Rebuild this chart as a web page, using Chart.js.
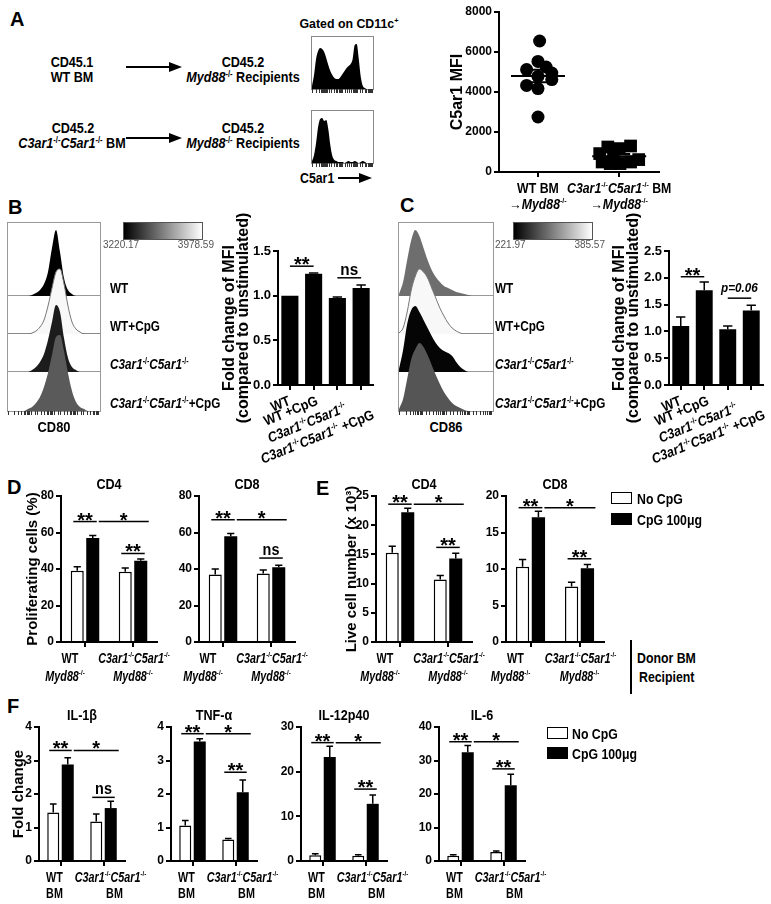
<!DOCTYPE html>
<html>
<head>
<meta charset="utf-8">
<title>C5ar1 / CpG figure</title>
<script src="https://cdn.jsdelivr.net/npm/chart.js@4.4.0/dist/chart.umd.min.js"></script>
<style>
  html, body { margin: 0; padding: 0; background: #fff; }
  #fig { position: relative; width: 771px; height: 904px; overflow: hidden; background: #fff;
         font-family: Arial, "Liberation Sans", sans-serif; font-weight: bold; color: #000; }
  #fig canvas, #fig .t, #fig .bx, #fig svg { position: absolute; }
  .t { white-space: nowrap; line-height: 1; }
  .t sup { font-size: 60%; vertical-align: 0; position: relative; top: -0.55em; }
</style>
</head>
<body>
<div id="fig"></div>
<script>
const FONT = 'Arial, "Liberation Sans", sans-serif';

// ---------- A: chimera C5ar1 MFI ----------
const aWtX = [1.02, 1.0, 1.1, 0.86, 1.17, 1.0, 1.17, 0.86, 1.0, 1.0];
const aWtY = [6550, 5530, 5250, 5120, 4950, 4780, 4620, 4330, 4170, 2750];
const aKoX = [1.76, 1.86, 2.0, 2.14, 1.79, 1.89, 2.01, 2.14, 2.24, 1.93];
const aKoY = [920, 1250, 1170, 1300, 500, 420, 420, 500, 620, 750];
const aCats = [['WT BM', '→_Myd88_^-/-^'], ['_C3ar1_^-/-^_C5ar1_^-/-^ BM', '→_Myd88_^-/-^']];
// C5ar1 histograms (gated on CD11c+)
const aHistWT = [3, 14, 30, 38, 41, 40, 37, 31, 24, 18, 14, 11, 10, 10, 12, 15, 18, 21, 23, 25, 30, 44, 45, 30, 12, 3, 1, 0, 0, 0, 0];
const aHistKO = [2, 8, 20, 36, 44, 45, 42, 43, 34, 18, 7, 3, 2, 1, 1, 1, 0, 1, 2, 1, 1, 2, 1, 0, 1, 2, 1, 0, 0, 0, 0];

// ---------- B / C: CD80, CD86 ----------
const histRowLabels = ['WT', 'WT+CpG', '_C3ar1_^-/-^_C5ar1_^-/-^', '_C3ar1_^-/-^_C5ar1_^-/-^+CpG'];
const bHistWT = [0, 0, 0, 0, 0, 0, 1, 3, 6, 12, 24, 48, 66, 44, 18, 6, 2, 0, 0, 0, 0, 0, 0, 0];
const bHistWTCpG = [0, 0, 0, 0, 0, 0, 1, 3, 7, 14, 28, 46, 62, 65, 50, 28, 12, 5, 2, 0, 0, 0, 0, 0];
const bHistKO = [0, 0, 0, 0, 0, 0, 2, 5, 10, 18, 32, 50, 67, 60, 34, 14, 5, 2, 0, 0, 0, 0, 0, 0];
const bHistKOCpG = [0, 0, 0, 0, 0, 2, 4, 8, 14, 24, 38, 56, 74, 76, 60, 38, 20, 9, 4, 2, 0, 0, 0, 0];
const cHistWT = [2, 14, 36, 56, 66, 60, 48, 36, 26, 19, 14, 10, 8, 6, 4, 3, 2, 1, 0, 0, 0, 0, 0, 0];
const cHistWTCpG = [1, 6, 22, 44, 58, 65, 62, 56, 46, 36, 26, 18, 11, 6, 3, 1, 0, 0, 0, 0, 0, 0, 0, 0];
const cHistKO = [3, 22, 48, 62, 66, 60, 52, 44, 36, 29, 24, 21, 19, 16, 10, 5, 2, 0, 0, 0, 0, 0, 0, 0];
const cHistKOCpG = [2, 12, 32, 52, 62, 68, 64, 56, 46, 36, 27, 19, 13, 8, 5, 3, 1, 0, 0, 0, 0, 0, 0, 0];

const mfiLabels = ['WT', 'WT +CpG', '_C3ar1_^-/-^_C5ar1_^-/-^', '_C3ar1_^-/-^_C5ar1_^-/-^ +CpG'];
const bFold = [1.0, 1.245, 0.975, 1.085];
const bFoldErr = [0, 0.01, 0.01, 0.035];
const cFold = [1.10, 1.77, 1.04, 1.39];
const cFoldErr = [0.17, 0.15, 0.06, 0.10];

// ---------- D / E / F ----------
const deGroups = [['WT', '_Myd88_^-/-^'], ['_C3ar1_^-/-^_C5ar1_^-/-^', '_Myd88_^-/-^']];
const fGroups = [['WT', 'BM'], ['_C3ar1_^-/-^_C5ar1_^-/-^', 'BM']];

const dCd4No = [39, 38.5], dCd4NoErr = [2.2, 2.0], dCd4CpG = [57, 44.5], dCd4CpGErr = [1.4, 1.0];
const dCd8No = [37, 37.5], dCd8NoErr = [3.0, 2.0], dCd8CpG = [58, 41], dCd8CpGErr = [1.5, 1.0];
const eCd4No = [15.3, 10.7], eCd4NoErr = [1.1, 0.7], eCd4CpG = [22.2, 14.3], eCd4CpGErr = [0.7, 0.9];
const eCd8No = [10.3, 7.6], eCd8NoErr = [1.0, 0.6], eCd8CpG = [17.1, 10.1], eCd8CpGErr = [0.8, 0.5];

const il1bNo = [1.45, 1.18], il1bNoErr = [0.25, 0.22], il1bCpG = [2.88, 1.58], il1bCpGErr = [0.2, 0.2];
const tnfNo = [1.06, 0.64], tnfNoErr = [0.15, 0.03], tnfCpG = [3.57, 2.05], tnfCpGErr = [0.08, 0.37];
const il12No = [1.3, 1.2], il12NoErr = [0.3, 0.2], il12CpG = [23.3, 12.8], il12CpGErr = [2.4, 2.0];
const il6No = [1.6, 2.7], il6NoErr = [0.3, 0.3], il6CpG = [32.5, 22.6], il6CpGErr = [2.0, 3.3];

const fig = document.getElementById('fig');

// _italic_  ^superscript^
function rich(s) {
  return s.replace(/_([^_]*)_/g, '<i>$1</i>').replace(/\^([^^]*)\^/g, '<sup>$1</sup>');
}
function segs(s) {
  const out = []; let it = false, sup = false, buf = '';
  for (const ch of s) {
    if (ch === '_' || ch === '^') {
      if (buf) out.push({ t: buf, it, sup });
      buf = '';
      if (ch === '_') it = !it; else sup = !sup;
    } else buf += ch;
  }
  if (buf) out.push({ t: buf, it, sup });
  return out;
}
function fontOf(g, size) {
  return (g.it ? 'italic ' : '') + 'bold ' + (g.sup ? Math.round(size * 0.6) : size) + 'px ' + FONT;
}
// sx < 1 squeezes the text horizontally (the original uses a condensed face)
function drawRich(ctx, s, x, y, size, align, sx = 1) {
  const parts = segs(s);
  let w = 0;
  parts.forEach(g => { ctx.font = fontOf(g, size); w += ctx.measureText(g.t).width; });
  const ws = w * sx;
  const x0 = align === 'center' ? x - ws / 2 : align === 'right' ? x - ws : x;
  ctx.save();
  ctx.translate(x0, y);
  ctx.scale(sx, 1);
  ctx.textAlign = 'left'; ctx.textBaseline = 'alphabetic'; ctx.fillStyle = '#000';
  let cx = 0;
  parts.forEach(g => {
    ctx.font = fontOf(g, size);
    ctx.fillText(g.t, cx, g.sup ? -size * 0.4 : 0);
    cx += ctx.measureText(g.t).width;
  });
  ctx.restore();
}

function text(s, x, y, o = {}) {
  const d = document.createElement('div');
  d.className = 't';
  d.innerHTML = rich(s);
  const size = o.size || 14;
  d.style.fontSize = size + 'px';
  if (o.weight) d.style.fontWeight = o.weight;
  if (o.color) d.style.color = o.color;
  d.style.top = (y - size * 0.5) + 'px';
  const a = o.align || 'center';
  if (a === 'center') { d.style.left = (x - 200) + 'px'; d.style.width = '400px'; d.style.textAlign = 'center'; }
  else if (a === 'right') { d.style.left = (x - 400) + 'px'; d.style.width = '400px'; d.style.textAlign = 'right'; }
  else d.style.left = x + 'px';
  if (o.sx) {
    d.style.transform = `scaleX(${o.sx})`;
    d.style.transformOrigin = a === 'center' ? '50% 50%' : a === 'right' ? '100% 50%' : '0 50%';
  }
  fig.appendChild(d);
}
function box(x, y, w, h, css) {
  const d = document.createElement('div');
  d.className = 'bx';
  d.style.cssText = `left:${x}px;top:${y}px;width:${w}px;height:${h}px;box-sizing:border-box;` + css;
  fig.appendChild(d);
}
function makeCanvas(l, t, w, h) {
  const c = document.createElement('canvas');
  c.width = w; c.height = h;
  c.style.left = l + 'px'; c.style.top = t + 'px';
  c.style.width = w + 'px'; c.style.height = h + 'px';
  fig.appendChild(c);
  return c;
}

function histo(l, t, w, h, vals, fill, line, ticks) {
  const c = makeCanvas(l, t, w, ticks ? h + 5 : h);
  const scales = {
    x: { type: 'category', display: false, offset: false },
    y: { display: false, min: 0, max: h }
  };
  if (ticks) {
    scales.xlog = {
      type: 'logarithmic', position: 'bottom', min: 1, max: 10000,
      grid: { drawOnChartArea: false, tickLength: 4, color: '#333', lineWidth: 1 },
      border: { display: false }, ticks: { display: false },
      afterFit(s) { s.height = 5; }
    };
  }
  new Chart(c, {
    type: 'line',
    data: {
      labels: vals.map((_, i) => i),
      datasets: [{
        data: vals, fill: 'origin', backgroundColor: fill,
        borderColor: line || fill, borderWidth: line ? 1 : 0,
        pointRadius: 0, cubicInterpolationMode: 'monotone'
      }]
    },
    options: {
      responsive: false, animation: false, layout: { padding: 0 },
      plugins: { legend: { display: false }, tooltip: { enabled: false } },
      scales
    }
  });
}

function barChart(cfg) {
  const [bl, bt, br, bb] = cfg.box, [pl, pt, pr, pb] = cfg.plot;
  const c = makeCanvas(bl, bt, br - bl, bb - bt);
  const datasets = cfg.series.map(s => ({
    data: s.values, errors: s.errors,
    backgroundColor: s.fill, borderColor: '#000', borderWidth: s.fill === '#fff' ? 1.5 : 0,
    barPercentage: cfg.barPct, categoryPercentage: cfg.catPct
  }));
  const decor = {
    id: 'decor',
    afterDatasetsDraw(chart) {
      const ctx = chart.ctx, xs = chart.scales.x, ys = chart.scales.y, area = chart.chartArea;
      ctx.save();
      ctx.strokeStyle = '#000'; ctx.fillStyle = '#000'; ctx.lineWidth = 1.5;
      chart.data.datasets.forEach((ds, d) => {
        if (!ds.errors) return;
        chart.getDatasetMeta(d).data.forEach((el, i) => {
          const e = ds.errors[i];
          if (!e) return;
          const y0 = ys.getPixelForValue(ds.data[i]), y1 = ys.getPixelForValue(ds.data[i] + e);
          const cw = el.width * 0.55;
          ctx.beginPath();
          ctx.moveTo(el.x, y0); ctx.lineTo(el.x, y1);
          ctx.moveTo(el.x - cw / 2, y1); ctx.lineTo(el.x + cw / 2, y1);
          ctx.stroke();
        });
      });
      (cfg.sig || []).forEach(([fd, fi, td, ti, v, t]) => {
        const a = chart.getDatasetMeta(fd).data[fi], b = chart.getDatasetMeta(td).data[ti];
        const pad = fd === td ? cfg.crossPad : cfg.pairPad;
        const x1 = a.x + pad[0], x2 = b.x + pad[1], y = ys.getPixelForValue(v);
        ctx.lineWidth = 1.5;
        ctx.beginPath(); ctx.moveTo(x1, y); ctx.lineTo(x2, y); ctx.stroke();
        const star = /^\*+$/.test(t);
        const size = star ? cfg.starSize : t.includes('=') ? 13 : cfg.sigSize;
        ctx.font = 'bold ' + size + 'px ' + FONT;
        const m = ctx.measureText(t.replace(/_/g, ''));
        drawRich(ctx, t, (x1 + x2) / 2, y - (star ? 1 : 3) - m.actualBoundingBoxDescent, size, 'center', star ? 1 : 0.9);
      });
      if (cfg.rows) {
        cfg.xLabels.forEach((rows, i) => rows.forEach((s, j) => {
          drawRich(ctx, s, xs.getPixelForValue(i) + cfg.shift[i][j], cfg.rows[j] - bt + 0.36 * cfg.labelSize,
            cfg.labelSize, 'center', cfg.sx);
        }));
      }
      if (cfg.rot) {
        // rotated labels, left ends stacked below the axis
        cfg.xLabels.forEach((s, i) => {
          ctx.save();
          ctx.translate(pl - bl + cfg.rot.dx[i], pb - bt + cfg.rot.dy[i]);
          ctx.rotate(cfg.rot.angle);
          drawRich(ctx, s, 0, 0.36 * cfg.labelSize, cfg.labelSize, 'left', cfg.sx);
          ctx.restore();
        });
      }
      if (cfg.title) {
        drawRich(ctx, cfg.title, (area.left + area.right) / 2, cfg.titleY - bt + 0.36 * 14, 14, 'center', 0.9);
      }
      ctx.restore();
    }
  };
  new Chart(c, {
    type: 'bar',
    data: { labels: cfg.xLabels.map((_, i) => i), datasets },
    options: {
      responsive: false, animation: false,
      layout: { padding: { top: pt - bt, right: br - pr, left: 0, bottom: 0 } },
      plugins: { legend: { display: false }, tooltip: { enabled: false } },
      scales: {
        x: {
          type: 'category', offset: true,
          grid: { offset: false, drawOnChartArea: false, color: '#000', lineWidth: 2, tickLength: 5 },
          border: { color: '#000', width: 2, z: 1 },
          ticks: { display: false },
          afterFit(s) { s.height = bb - pb; }
        },
        y: {
          min: 0, max: cfg.yMax,
          ticks: {
            stepSize: cfg.yStep, color: '#000', padding: 2,
            font: { family: FONT, size: cfg.tickSize, weight: 'bold' },
            callback: cfg.tickFmt || (v => String(v))
          },
          grid: { drawOnChartArea: false, color: '#000', lineWidth: 2, tickLength: 5 },
          border: { color: '#000', width: 2, z: 1 },
          title: {
            display: !!cfg.yTitle, text: cfg.yTitle, color: '#000', padding: 0,
            font: { family: FONT, size: cfg.yTitleSize, weight: 'bold', lineHeight: cfg.yTitleLH || 1.05 }
          },
          afterFit(s) { s.width = pl - bl; }
        }
      }
    },
    plugins: [decor]
  });
}

function scatterA() {
  const bl = 449, bt = 0, br = 690, bb = 215, pl = 499, pt = 12, pr = 659, pb = 172;
  const c = makeCanvas(bl, bt, br - bl, bb - bt);
  const meanSem = {
    id: 'meanSem',
    afterDatasetsDraw(chart) {
      const ctx = chart.ctx, xs = chart.scales.x, ys = chart.scales.y;
      ctx.save();
      ctx.strokeStyle = '#000'; ctx.lineWidth = 2;
      [[1, aWtY], [2, aKoY]].forEach(([cx, vals]) => {
        const n = vals.length, mean = vals.reduce((a, b) => a + b, 0) / n;
        const sd = Math.sqrt(vals.reduce((a, b) => a + (b - mean) ** 2, 0) / (n - 1));
        const sem = sd / Math.sqrt(n);
        const x = xs.getPixelForValue(cx), ym = ys.getPixelForValue(mean);
        const yh = ys.getPixelForValue(mean + sem), yl = ys.getPixelForValue(mean - sem);
        ctx.beginPath();
        ctx.moveTo(x - 27, ym); ctx.lineTo(x + 27, ym);
        ctx.moveTo(x - 11, yh); ctx.lineTo(x + 11, yh);
        ctx.moveTo(x - 11, yl); ctx.lineTo(x + 11, yl);
        ctx.moveTo(x, yh); ctx.lineTo(x, yl);
        ctx.stroke();
      });
      aCats.forEach((rows, i) => rows.forEach((s, j) => {
        drawRich(ctx, s, xs.getPixelForValue(i + 1), [188, 204][j] - bt + 5, 14, 'center', 0.88);
      }));
      ctx.restore();
    }
  };
  new Chart(c, {
    type: 'scatter',
    data: {
      datasets: [
        { data: aWtX.map((x, i) => ({ x, y: aWtY[i] })), pointStyle: 'circle', pointRadius: 6.5,
          backgroundColor: '#000', borderWidth: 0 },
        { data: aKoX.map((x, i) => ({ x, y: aKoY[i] })), pointStyle: 'rect', pointRadius: 9,
          backgroundColor: '#000', borderWidth: 0 }
      ]
    },
    options: {
      responsive: false, animation: false,
      layout: { padding: { top: pt - bt, right: br - pr, left: 0, bottom: 0 } },
      plugins: { legend: { display: false }, tooltip: { enabled: false } },
      scales: {
        x: {
          type: 'linear', min: 0.52, max: 2.49,
          afterBuildTicks(s) { s.ticks = [{ value: 1 }, { value: 2 }]; },
          grid: { drawOnChartArea: false, color: '#000', lineWidth: 2, tickLength: 5 },
          border: { color: '#000', width: 2 },
          ticks: { display: false },
          afterFit(s) { s.height = bb - pb; }
        },
        y: {
          min: 0, max: 8000,
          ticks: { stepSize: 2000, color: '#000', padding: 2, callback: v => String(v),
                   font: { family: FONT, size: 12, weight: 'bold' } },
          grid: { drawOnChartArea: false, color: '#000', lineWidth: 2, tickLength: 5 },
          border: { color: '#000', width: 2 },
          title: { display: true, text: 'C5ar1 MFI', color: '#000', padding: 0,
                   font: { family: FONT, size: 16, weight: 'bold', lineHeight: 1.05 } },
          afterFit(s) { s.width = pl - bl; }
        }
      }
    },
    plugins: [meanSem]
  });
}

// ---------- arrows ----------
const svgNS = 'http://www.w3.org/2000/svg';
const svg = document.createElementNS(svgNS, 'svg');
svg.setAttribute('width', 771); svg.setAttribute('height', 904);
svg.style.left = '0px'; svg.style.top = '0px';
function arrow(x1, x2, y) {
  const l = document.createElementNS(svgNS, 'line');
  l.setAttribute('x1', x1); l.setAttribute('x2', x2 - 10); l.setAttribute('y1', y); l.setAttribute('y2', y);
  l.setAttribute('stroke', '#000'); l.setAttribute('stroke-width', 2);
  const p = document.createElementNS(svgNS, 'polygon');
  p.setAttribute('points', `${x2},${y} ${x2 - 13},${y - 5} ${x2 - 13},${y + 5}`);
  svg.appendChild(l); svg.appendChild(p);
}
arrow(126, 182, 67);
arrow(126, 182, 138);
arrow(338, 372, 178);
fig.appendChild(svg);

// ---------- panel A ----------
const flow = { size: 14, sx: 0.9 };
text('A', 10, 19, { size: 20, align: 'left' });
text('CD45.1', 72, 62, flow); text('WT BM', 72, 77, flow);
text('CD45.2', 243, 62, flow); text('_Myd88_^-/-^ Recipients', 243, 77, flow);
text('CD45.2', 73, 128, flow); text('_C3ar1_^-/-^_C5ar1_^-/-^ BM', 72, 143, flow);
text('CD45.2', 243, 128, flow); text('_Myd88_^-/-^ Recipients', 243, 143, flow);
text('Gated on CD11c^+^', 349, 23, { size: 13, sx: 0.95 });
text('C5ar1', 300, 178, { size: 14, align: 'left', sx: 0.88 });
box(311, 36, 63, 54, 'border:1px solid #888;');
box(311, 110, 63, 54, 'border:1px solid #888;');
histo(312, 37, 61, 52, aHistWT, '#000', null, true);
histo(312, 111, 61, 52, aHistKO, '#000', null, true);
scatterA();

// ---------- panels B & C: histograms ----------
const rowBase = [296, 334, 372, 411];
function histStack(left, width, sets, labelX, axisLabel) {
  box(left - 1, 222, width + 2, 190, 'border:1px solid #999;');
  rowBase.slice(0, 3).forEach(y => box(left, y - 1, width, 1, 'background:#999;'));
  sets.forEach(([vals, fill, line], r) => histo(left, rowBase[r] - 80, width, 80, vals, fill, line, r === 3));
  histRowLabels.forEach((s, r) => text(s, labelX, rowBase[r] - 8, { size: 14, align: 'left', sx: 0.84 }));
  text(axisLabel, left + width / 2, 427, { size: 14, sx: 0.92 });
}
text('B', 8, 207, { size: 20, align: 'left' });
histStack(8, 92, [
  [bHistWT, '#000'], [bHistWTCpG, '#f8f8f8', '#777'], [bHistKO, '#1c1c1c'], [bHistKOCpG, '#5a5a5a']
], 110, 'CD80');
box(123, 222, 80, 18, 'border:1px solid #555;background:linear-gradient(to right,#000,#fff);');
text('3220.17', 103, 245, { size: 10, align: 'left', color: '#555', weight: 'normal' });
text('3978.59', 214, 245, { size: 10, align: 'right', color: '#555', weight: 'normal' });

text('C', 400, 205, { size: 20, align: 'left' });
histStack(399, 94, [
  [cHistWT, '#6e6e6e'], [cHistWTCpG, '#f8f8f8', '#777'], [cHistKO, '#050505'], [cHistKOCpG, '#555']
], 495, 'CD86');
box(513, 222, 80, 18, 'border:1px solid #555;background:linear-gradient(to right,#000,#fff);');
text('221.97', 495, 245, { size: 10, align: 'left', color: '#555', weight: 'normal' });
text('385.57', 605, 245, { size: 10, align: 'right', color: '#555', weight: 'normal' });

// ---------- panels B & C: fold change of MFI ----------
const mfiCommon = {
  tickSize: 13, yTitleSize: 16, yTitleLH: 0.9, labelSize: 14, starSize: 20, sigSize: 17, sx: 0.9,
  barPct: 0.72, catPct: 1, crossPad: [0, 0], pairPad: [0, 0], yStep: 0.5,
  tickFmt: v => v.toFixed(1), xLabels: mfiLabels,
  rot: { angle: -22 * Math.PI / 180, dx: [-7, -14, -10, -17], dy: [22, 36, 53, 74] },
  yTitle: ['Fold change of MFI', '(compared to unstimulated)']
};
barChart(Object.assign({}, mfiCommon, {
  box: [222, 212, 390, 472], plot: [278, 251, 373, 385], yMax: 1.5,
  series: [{ values: bFold, errors: bFoldErr, fill: '#000' }],
  sig: [[0, 0, 0, 1, 1.33, '**'], [0, 2, 0, 3, 1.20, 'ns']]
}));
barChart(Object.assign({}, mfiCommon, {
  box: [612, 212, 771, 472], plot: [669, 251, 763, 385], yMax: 2.5,
  series: [{ values: cFold, errors: cFoldErr, fill: '#000' }],
  sig: [[0, 0, 0, 1, 2.02, '**'], [0, 2, 0, 3, 1.62, '_p=0.06_']]
}));

// ---------- panels D & E ----------
const deCommon = {
  tickSize: 12, yTitleSize: 15, labelSize: 14, starSize: 20, sigSize: 16, sx: 0.77,
  barPct: 0.84, catPct: 0.646, crossPad: [6, 8], pairPad: [-4, 4],
  xLabels: deGroups, rows: [658, 676], shift: [[-15, -20], [1, 0]], titleY: 484
};
text('D', 7, 487, { size: 20, align: 'left' });
barChart(Object.assign({}, deCommon, {
  box: [25, 470, 190, 690], plot: [61, 496, 157, 642], yMax: 80, yStep: 20,
  yTitle: 'Proliferating cells (%)', title: 'CD4',
  series: [{ values: dCd4No, errors: dCd4NoErr, fill: '#fff' }, { values: dCd4CpG, errors: dCd4CpGErr, fill: '#000' }],
  sig: [[0, 0, 1, 0, 66, '**'], [1, 0, 1, 1, 66, '*'], [0, 1, 1, 1, 48.5, '**']]
}));
barChart(Object.assign({}, deCommon, {
  box: [170, 470, 325, 690], plot: [199, 496, 295, 642], yMax: 80, yStep: 20, title: 'CD8',
  series: [{ values: dCd8No, errors: dCd8NoErr, fill: '#fff' }, { values: dCd8CpG, errors: dCd8CpGErr, fill: '#000' }],
  sig: [[0, 0, 1, 0, 67, '**'], [1, 0, 1, 1, 67, '*'], [0, 1, 1, 1, 46, 'ns']]
}));
text('E', 316, 488, { size: 20, align: 'left' });
barChart(Object.assign({}, deCommon, {
  box: [344, 470, 500, 690], plot: [376, 496, 472, 642], yMax: 25, yStep: 5,
  yTitle: 'Live cell number (x 10³)', title: 'CD4',
  series: [{ values: eCd4No, errors: eCd4NoErr, fill: '#fff' }, { values: eCd4CpG, errors: eCd4CpGErr, fill: '#000' }],
  sig: [[0, 0, 1, 0, 23.6, '**'], [1, 0, 1, 1, 23.6, '*'], [0, 1, 1, 1, 16.2, '**']]
}));
barChart(Object.assign({}, deCommon, {
  box: [476, 470, 628, 690], plot: [506, 496, 604, 642], yMax: 20, yStep: 5, title: 'CD8',
  series: [{ values: eCd8No, errors: eCd8NoErr, fill: '#fff' }, { values: eCd8CpG, errors: eCd8CpGErr, fill: '#000' }],
  sig: [[0, 0, 1, 0, 18.4, '**'], [1, 0, 1, 1, 18.4, '*'], [0, 1, 1, 1, 11.4, '**']]
}));
const legendText = { size: 15, align: 'left', sx: 0.82 };
box(611, 492, 21, 12, 'border:1.5px solid #000;background:#fff;');
box(611, 513, 21, 12, 'background:#000;');
text('No CpG', 637, 498, legendText);
text('CpG 100μg', 637, 519, legendText);
box(630, 640, 2, 54, 'background:#000;');
text('Donor BM', 637, 657, legendText);
text('Recipient', 639, 676, legendText);

// ---------- panel F ----------
const fCommon = {
  tickSize: 12, yTitleSize: 15, labelSize: 14, starSize: 20, sigSize: 16, sx: 0.77,
  barPct: 0.83, catPct: 0.674, crossPad: [6, 8], pairPad: [-4, 4],
  xLabels: fGroups, rows: [877, 893], shift: [[-6, -6], [7, 11]], titleY: 715
};
text('F', 7, 706, { size: 20, align: 'left' });
barChart(Object.assign({}, fCommon, {
  box: [11, 700, 175, 904], plot: [39, 727, 125, 861], yMax: 4, yStep: 1,
  yTitle: 'Fold change', title: 'IL-1β',
  series: [{ values: il1bNo, errors: il1bNoErr, fill: '#fff' }, { values: il1bCpG, errors: il1bCpGErr, fill: '#000' }],
  sig: [[0, 0, 1, 0, 3.3, '**'], [1, 0, 1, 1, 3.3, '*'], [0, 1, 1, 1, 1.9, 'ns']]
}));
barChart(Object.assign({}, fCommon, {
  box: [150, 700, 300, 904], plot: [171, 727, 257, 861], yMax: 4, yStep: 1, title: 'TNF-α',
  series: [{ values: tnfNo, errors: tnfNoErr, fill: '#fff' }, { values: tnfCpG, errors: tnfCpGErr, fill: '#000' }],
  sig: [[0, 0, 1, 0, 3.8, '**'], [1, 0, 1, 1, 3.8, '*'], [0, 1, 1, 1, 2.65, '**']]
}));
barChart(Object.assign({}, fCommon, {
  box: [275, 700, 425, 904], plot: [301, 727, 387, 861], yMax: 30, yStep: 10, title: 'IL-12p40',
  series: [{ values: il12No, errors: il12NoErr, fill: '#fff' }, { values: il12CpG, errors: il12CpGErr, fill: '#000' }],
  sig: [[0, 0, 1, 0, 26.5, '**'], [1, 0, 1, 1, 26.5, '*'], [0, 1, 1, 1, 16.1, '**']]
}));
barChart(Object.assign({}, fCommon, {
  box: [410, 700, 560, 904], plot: [439, 727, 525, 861], yMax: 40, yStep: 10, title: 'IL-6',
  series: [{ values: il6No, errors: il6NoErr, fill: '#fff' }, { values: il6CpG, errors: il6CpGErr, fill: '#000' }],
  sig: [[0, 0, 1, 0, 35.6, '**'], [1, 0, 1, 1, 35.6, '*'], [0, 1, 1, 1, 27.5, '**']]
}));
box(547, 727, 21, 12, 'border:1.5px solid #000;background:#fff;');
box(547, 747, 21, 12, 'background:#000;');
text('No CpG', 572, 733, legendText);
text('CpG 100μg', 572, 753, legendText);
</script>
</body>
</html>
